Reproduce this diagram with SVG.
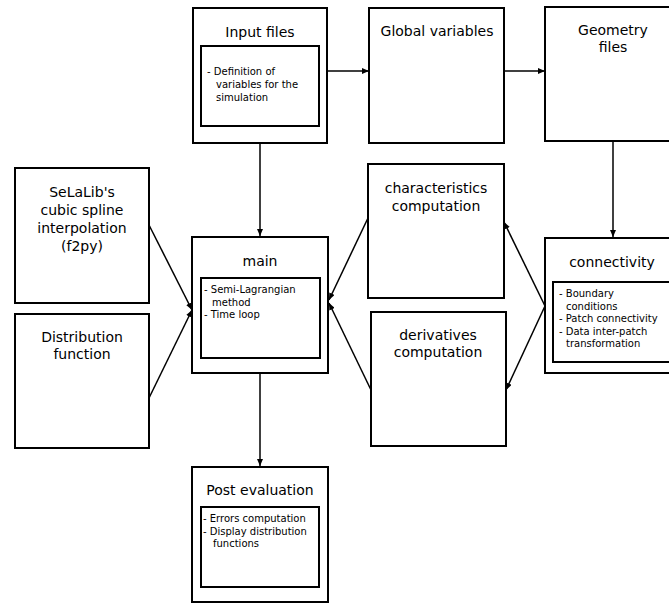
<svg xmlns="http://www.w3.org/2000/svg" width="669" height="603" viewBox="0 0 669 603">
<defs>
<style>
.box{fill:#fff;stroke:#000;stroke-width:2}
.inner{fill:#fff;stroke:#000;stroke-width:2}
.t{font-family:"DejaVu Sans",sans-serif;font-size:14px;fill:#000;text-anchor:middle}
.s{font-family:"DejaVu Sans",sans-serif;font-size:10px;fill:#000}
.c{fill:none;stroke:#000;stroke-width:1.5}
</style>
<marker id="ah" markerWidth="7" markerHeight="6" refX="7" refY="3" orient="auto" markerUnits="userSpaceOnUse">
<path d="M0,0 L7,3 L0,6 Z" fill="#000"/>
</marker>
</defs>
<rect width="669" height="603" fill="#fff"/>
<g id="connectors">
<line class="c" x1="327" y1="71" x2="369" y2="71" marker-end="url(#ah)"/>
<line class="c" x1="504" y1="71" x2="545" y2="71" marker-end="url(#ah)"/>
<line class="c" x1="613" y1="142" x2="613" y2="237" marker-end="url(#ah)"/>
<line class="c" x1="260" y1="143" x2="260" y2="236" marker-end="url(#ah)"/>
<line class="c" x1="260" y1="373" x2="260" y2="466" marker-end="url(#ah)"/>
<line class="c" x1="149" y1="225" x2="192" y2="310" marker-end="url(#ah)"/>
<line class="c" x1="149" y1="398" x2="192" y2="310" marker-end="url(#ah)"/>
<line class="c" x1="368" y1="218" x2="329" y2="300" marker-end="url(#ah)"/>
<line class="c" x1="371" y1="390" x2="329" y2="303" marker-end="url(#ah)"/>
<line class="c" x1="545" y1="306" x2="504" y2="222" marker-end="url(#ah)"/>
<line class="c" x1="545" y1="306" x2="506" y2="390" marker-end="url(#ah)"/>
</g>
<g id="input-files">
<rect class="box" x="193" y="8" width="134" height="135"/>
<text class="t" x="260" y="37">Input files</text>
<rect class="inner" x="201" y="46" width="118" height="80"/>
<text class="s" x="207" y="75">- Definition of</text>
<text class="s" x="216" y="88">variables for the</text>
<text class="s" x="216" y="101">simulation</text>
</g>
<g id="global-variables">
<rect class="box" x="369" y="8" width="135" height="135"/>
<text class="t" x="437" y="36">Global variables</text>
</g>
<g id="geometry-files">
<rect class="box" x="545" y="7" width="136" height="134"/>
<text class="t" x="613" y="35">Geometry</text>
<text class="t" x="613" y="52">files</text>
</g>
<g id="selalib">
<rect class="box" x="15" y="168" width="134" height="135"/>
<text class="t" x="82" y="197">SeLaLib's</text>
<text class="t" x="82" y="215">cubic spline</text>
<text class="t" x="82" y="233">interpolation</text>
<text class="t" x="82" y="251">(f2py)</text>
</g>
<g id="distribution-function">
<rect class="box" x="15" y="314" width="134" height="134"/>
<text class="t" x="82" y="342">Distribution</text>
<text class="t" x="82" y="359">function</text>
</g>
<g id="main">
<rect class="box" x="192" y="237" width="136" height="136"/>
<text class="t" x="260" y="266">main</text>
<rect class="inner" x="201" y="278" width="119" height="80"/>
<text class="s" x="204" y="293">- Semi-Lagrangian</text>
<text class="s" x="212" y="305.5">method</text>
<text class="s" x="204" y="318">- Time loop</text>
</g>
<g id="characteristics">
<rect class="box" x="368" y="164" width="136" height="134"/>
<text class="t" x="436" y="193">characteristics</text>
<text class="t" x="436" y="211">computation</text>
</g>
<g id="derivatives">
<rect class="box" x="371" y="312" width="135" height="134"/>
<text class="t" x="438" y="340">derivatives</text>
<text class="t" x="438" y="357">computation</text>
</g>
<g id="connectivity">
<rect class="box" x="545" y="238" width="136" height="135"/>
<text class="t" x="612" y="267">connectivity</text>
<rect class="inner" x="553" y="282" width="120" height="80"/>
<text class="s" x="559" y="297">- Boundary</text>
<text class="s" x="566" y="309.5">conditions</text>
<text class="s" x="559" y="322">- Patch connectivity</text>
<text class="s" x="559" y="334.5">- Data inter-patch</text>
<text class="s" x="566" y="347">transformation</text>
</g>
<g id="post-evaluation">
<rect class="box" x="192" y="467" width="136" height="135"/>
<text class="t" x="260" y="495">Post evaluation</text>
<rect class="inner" x="201" y="507" width="118" height="80"/>
<text class="s" x="203" y="522">- Errors computation</text>
<text class="s" x="203" y="534.5">- Display distribution</text>
<text class="s" x="213" y="547">functions</text>
</g>
</svg>
